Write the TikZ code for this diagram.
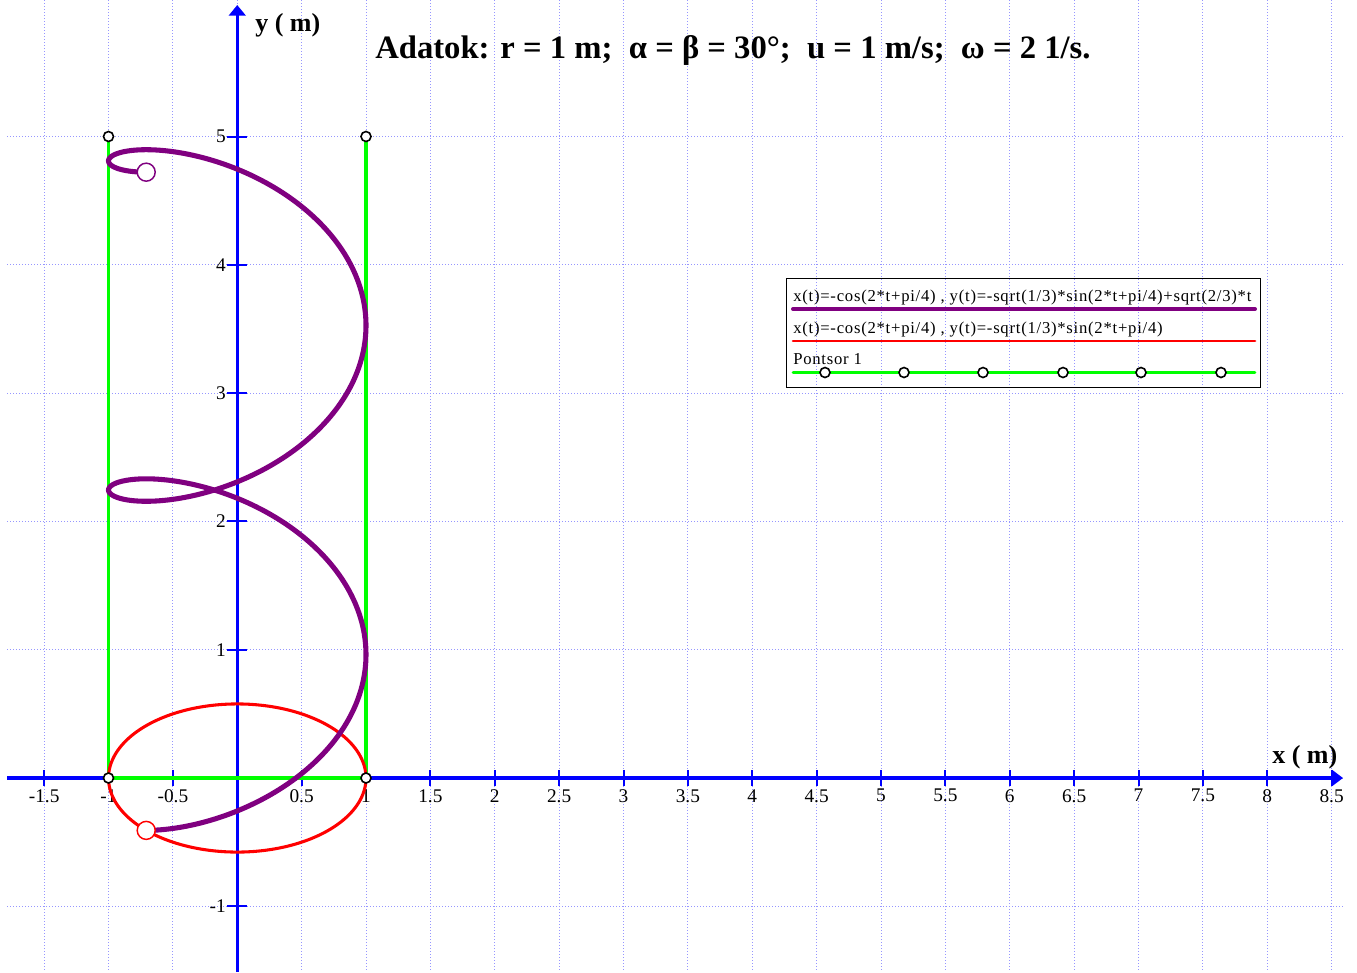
\documentclass[tikz,border=0pt]{standalone}
\usepackage{fontspec}
\setmainfont{Liberation Serif}
\newfontfamily\legfont[LetterSpace=4.5]{Liberation Serif}
\usetikzlibrary{arrows.meta}
\definecolor{gridblue}{RGB}{150,150,255}
\definecolor{axblue}{RGB}{0,0,255}
\definecolor{ggreen}{RGB}{0,255,0}
\definecolor{ppurple}{RGB}{128,0,128}
\definecolor{rred}{RGB}{255,0,0}
\tikzset{
  gridline/.style={draw=gridblue, line width=0.75pt, dash pattern=on 0.75pt off 1.5pt},
  axisline/.style={draw=axblue, line width=2.3pt},
  tickline/.style={draw=axblue, line width=1.5pt},
  ticklab/.style={font=\fontsize{14.5}{16}\selectfont, inner sep=0pt},
  greenline/.style={draw=ggreen, line width=2.3pt},
  purpleline/.style={draw=ppurple, line width=3.8pt, line join=round},
  redline/.style={draw=rred, line width=2.3pt},
  ptmark/.style={circle, draw=black, fill=white, line width=1.2pt, minimum size=7.5pt, inner sep=0pt},
  endmark/.style={circle, fill=white, line width=1.1pt, minimum size=13.5pt, inner sep=0pt},
  legtext/.style={font=\legfont\fontsize{12.5}{14}\selectfont, inner sep=0pt, anchor=base west},
  axlab/.style={font=\bfseries\fontsize{19.5}{22}\selectfont, inner sep=0pt, anchor=base west},
}
\begin{document}
\begin{tikzpicture}[x=0.75pt,y=-0.75pt]
\useasboundingbox (0,0) rectangle (1357,972);
\fill[white] (0,0) rectangle (1357,972);
% grid
\foreach \k in {-3,...,17}
  \draw[gridline] ({237.25+64.375*\k},0) -- ({237.25+64.375*\k},972);
\foreach \j in {-1,...,5}
  \draw[gridline] (7,{778-128.3*\j}) -- (1343,{778-128.3*\j});
% axes
\draw[axisline, -{Triangle[length=8pt,width=11.5pt]}] (7,778) -- (1343,778);
\draw[axisline, -{Triangle[length=8pt,width=12.5pt]}] (237.25,972) -- (237.25,5);
% x ticks
\foreach \k/\lab in {-3/-1.5,-2/-1,-1/-0.5,1/0.5,2/1,3/1.5,4/2,5/2.5,6/3,7/3.5,8/4,9/4.5,10/5,11/5.5,12/6,13/6.5,14/7,15/7.5,16/8,17/8.5}{
  \draw[tickline] ({237.25+64.375*\k},770) -- ({237.25+64.375*\k},786);
  \node[ticklab, anchor=north] (xl\k) at ({237.25+64.375*\k},789) {\lab};
}
% y ticks
\foreach \j in {-1,1,2,3,4,5}{
  \draw[tickline] (227,{778-128.3*\j}) -- (247,{778-128.3*\j});
  \node[ticklab, anchor=east] (yl\j) at (226,{778-128.3*\j}) {\j};
}
% axis labels
\node[axlab] (ylab) at (255,31) {y ( m)};
\node[axlab] (xlab) at (1272,763) {x ( m)};
% title
\node[font=\bfseries\fontsize{24.5}{28}\selectfont, inner sep=0pt, anchor=base west] (title) at (375,58)
  {Adatok: r = 1 m;\ \ α = β = 30°;\ \ u = 1 m/s;\ \ ω = 2 1/s.};
% data scope
\begin{scope}[shift={(177.9375pt,-583.5pt)}, x=96.5625pt, y=96.225pt]
  \coordinate (A) at (-1,0);
  \coordinate (B) at (1,0);
  \coordinate (C) at (-1,5);
  \coordinate (D) at (1,5);
  \draw[greenline] (C) -- (A) -- (B) -- (D);
  \draw[redline] plot[domain=0:360, samples=200, smooth, variable=\a] ({cos(\a)},{0.57735*sin(\a)}) -- cycle;
  \draw[purpleline] plot[domain=0:6.28319, samples=400, smooth, variable=\t]
    ({-cos(deg(2*\t)+45)},{-0.57735*sin(deg(2*\t)+45)+0.816497*\t});
  \node[ptmark] (mA) at (A) {};
  \node[ptmark] (mB) at (B) {};
  \node[ptmark] (mC) at (C) {};
  \node[ptmark] (mD) at (D) {};
  \node[endmark, draw=rred] (start) at (-0.70711,-0.40825) {};
  \node[endmark, draw=ppurple] (end) at (-0.70711,4.72192) {};
\end{scope}
% legend
\node[draw=black, line width=1.1pt, minimum width=355.5pt, minimum height=81.75pt, inner sep=0pt, anchor=north west] (legend) at (786,278) {};
\node[legtext] (lt1) at (793,301) {x(t)=-cos(2*t+pi/4) , y(t)=-sqrt(1/3)*sin(2*t+pi/4)+sqrt(2/3)*t};
\node[legtext] (lt2) at (793,333) {x(t)=-cos(2*t+pi/4) , y(t)=-sqrt(1/3)*sin(2*t+pi/4)};
\node[legtext] (lt3) at (793,364) {Pontsor 1};
\coordinate (p1s) at (793,309); \coordinate (p1e) at (1255,309);
\coordinate (p2s) at (793,341); \coordinate (p2e) at (1255,341);
\coordinate (p3s) at (793,372.5); \coordinate (p3e) at (1255,372.5);
\draw[draw=ppurple, line width=3pt, line cap=round] (p1s) -- (p1e);
\draw[redline, line width=2pt, line cap=round] (p2s) -- (p2e);
\draw[greenline, line width=2pt, line cap=round] (p3s) -- (p3e);
\foreach \px [count=\i] in {825,904,983,1063,1141,1221}
  \node[ptmark] (lm\i) at (\px,372.5) {};
\end{tikzpicture}
\end{document}
